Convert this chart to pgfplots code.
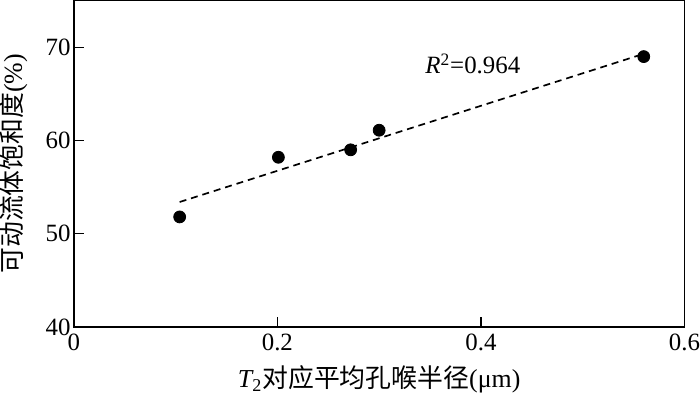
\documentclass[border=0pt]{standalone}
\usepackage{pgfplots}
\pgfplotsset{compat=1.18}
\usepackage{fontspec}
\setmainfont{Liberation Serif}
\newfontfamily\cjk{Noto Sans CJK SC}

\begin{document}
\begin{tikzpicture}
  \begin{axis}[
    scale only axis,
    width=307pt, height=164pt,
    xmin=0, xmax=0.6, ymin=40, ymax=75,
    xtick={0,0.2,0.4,0.6},
    ytick={40,50,60,70},
    tick align=inside,
    tick pos=left,
    major tick length=5pt,
    axis line style={line width=0.7pt},
    every tick/.style={line width=0.7pt, black},
    /pgf/number format/assume math mode=true,
    /pgf/number format/fixed,
    ticklabel style={font=\fontsize{12.5}{14}\selectfont},
    yticklabel style={inner xsep=1.5pt},
    xticklabel style={inner xsep=0pt},
    xlabel={{\itshape T}\textsubscript{2}{\cjk 对应平均孔喉半径}(μm)},
    ylabel={{\cjk 可动流体饱和度}(\%)},
    label style={font=\fontsize{13}{15}\selectfont, inner sep=0pt},
    x label style={at={(axis description cs:0.5,-0.16)}, anchor=center},
    y label style={at={(axis description cs:-0.0985,0.5)}, anchor=center},
  ]
    % measured points
    \addplot[only marks, mark=*, mark size=3pt, black] coordinates {
      (0.104,51.8) (0.201,58.2) (0.272,59.0) (0.300,61.1) (0.560,69.0)
    };
    % linear fit
    \addplot[black, line width=0.85pt, dash pattern=on 3.5pt off 2.5pt] coordinates {
      (0.104,53.4) (0.560,69.3)
    };
    \node[font=\fontsize{12.5}{14}\selectfont] at (axis cs:0.392,68.2)
      {{\itshape R}\textsuperscript{2}=0.964};
  \end{axis}
\end{tikzpicture}
\end{document}
